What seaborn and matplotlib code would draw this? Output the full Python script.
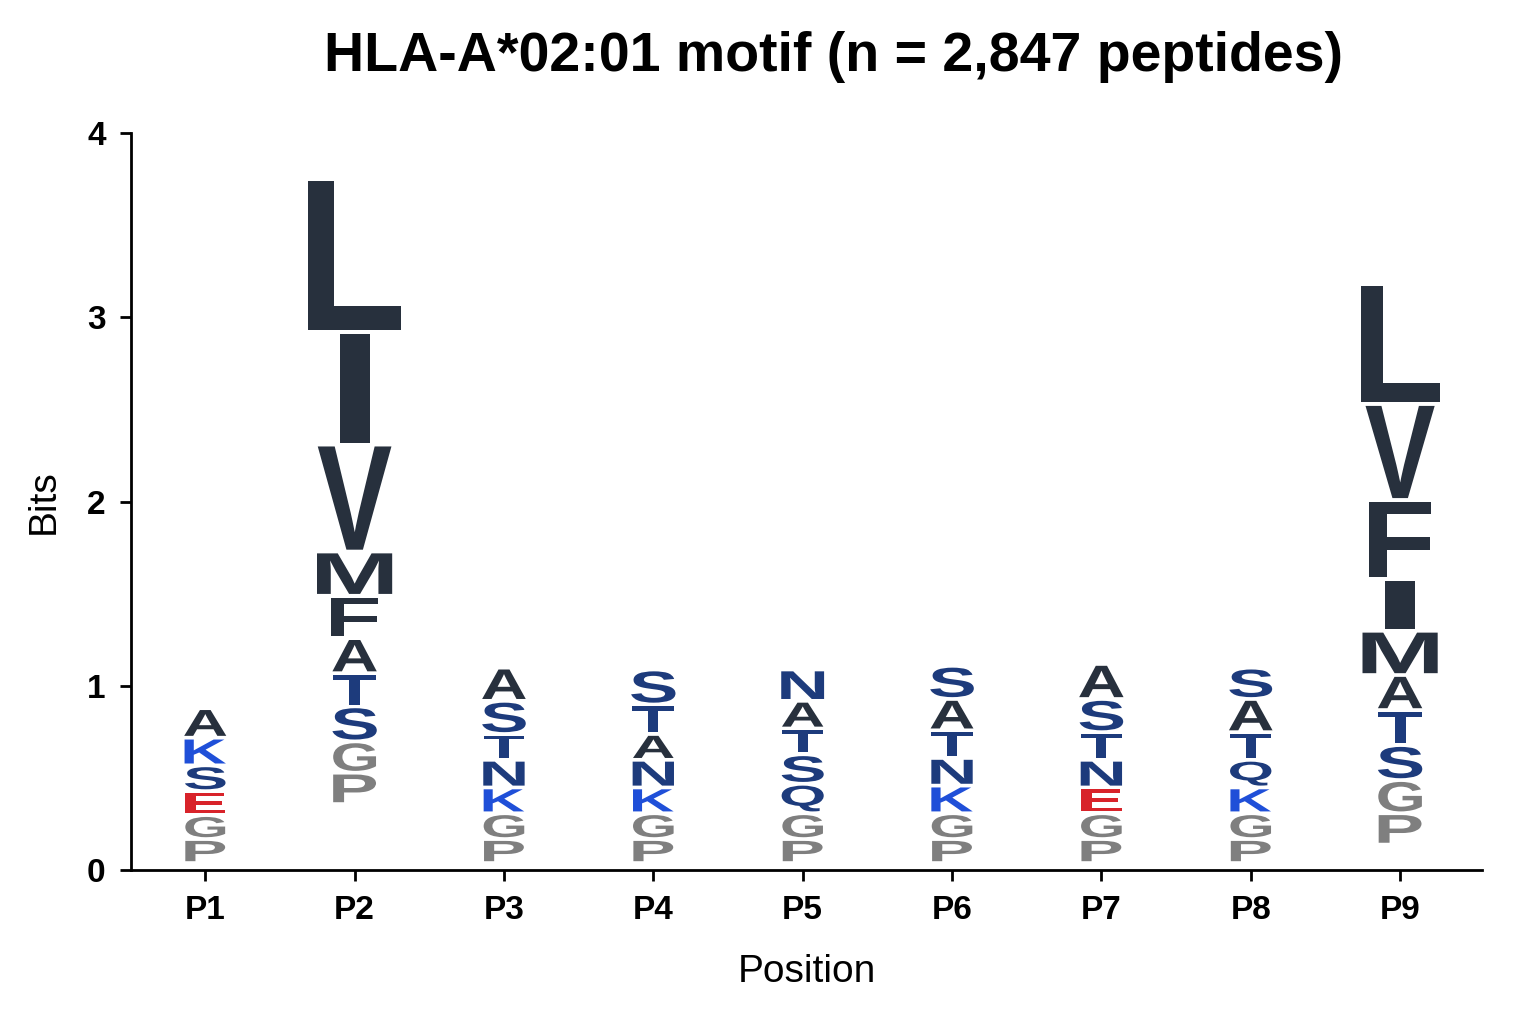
import matplotlib
matplotlib.use("Agg")
import matplotlib.pyplot as plt
import seaborn as sns
from matplotlib.textpath import TextPath
from matplotlib.patches import PathPatch
from matplotlib.font_manager import FontProperties
from matplotlib.transforms import Affine2D

positions = ["P1", "P2", "P3", "P4", "P5", "P6", "P7", "P8", "P9"]
# base offset (bits) and letters bottom->top with heights (bits)
bases = [0.04, 0.36, 0.04, 0.04, 0.04, 0.04, 0.04, 0.04, 0.14]
letters = [
    ["P", "G", "E", "S", "K", "A"],
    ["P", "G", "S", "T", "A", "F", "M", "V", "I", "L"],
    ["P", "G", "K", "N", "T", "S", "A"],
    ["P", "G", "K", "N", "A", "T", "S"],
    ["P", "G", "Q", "S", "T", "A", "N"],
    ["P", "G", "K", "N", "T", "A", "S"],
    ["P", "G", "E", "N", "T", "S", "A"],
    ["P", "G", "K", "Q", "T", "A", "S"],
    ["P", "G", "S", "T", "A", "M", "I", "F", "V", "L"],
]
heights = [
    [0.13, 0.13, 0.13, 0.14, 0.15, 0.16],
    [0.17, 0.17, 0.19, 0.18, 0.19, 0.23, 0.24, 0.58, 0.61, 0.83],
    [0.13, 0.14, 0.14, 0.15, 0.14, 0.18, 0.18],
    [0.13, 0.14, 0.14, 0.15, 0.14, 0.16, 0.19],
    [0.13, 0.14, 0.16, 0.16, 0.14, 0.15, 0.17],
    [0.13, 0.14, 0.15, 0.15, 0.15, 0.17, 0.18],
    [0.13, 0.14, 0.14, 0.15, 0.15, 0.18, 0.19],
    [0.13, 0.14, 0.14, 0.15, 0.15, 0.18, 0.17],
    [0.17, 0.18, 0.19, 0.19, 0.19, 0.24, 0.28, 0.43, 0.52, 0.65],
]
colors = {
    "L": "#27303d", "I": "#27303d", "V": "#27303d", "M": "#27303d",
    "F": "#27303d", "A": "#27303d",
    "S": "#1d3b7c", "T": "#1d3b7c", "N": "#1d3b7c", "Q": "#1d3b7c",
    "K": "#1f4fd8", "E": "#d8232a", "G": "#7f7f7f", "P": "#7f7f7f",
}

sns.set_style("ticks")
plt.rcParams["font.family"] = ["Liberation Sans", "DejaVu Sans"]
plt.rcParams["text.color"] = "black"
plt.rcParams["axes.labelcolor"] = "black"
plt.rcParams["xtick.color"] = "black"
plt.rcParams["ytick.color"] = "black"
fig, ax = plt.subplots(figsize=(15.36, 10.24), dpi=100)
fig.subplots_adjust(left=0.085, right=0.965, top=0.87, bottom=0.15)

fp = FontProperties(family="Liberation Sans", weight="bold")

def draw_letter(ch, xc, y0, w, h, color):
    tp = TextPath((0, 0), ch, size=1, prop=fp)
    bb = tp.get_extents()
    t = (Affine2D().translate(-bb.x0 - bb.width / 2, -bb.y0)
         .scale(w / bb.width, h / bb.height).translate(xc, y0))
    ax.add_patch(PathPatch(t.transform_path(tp), fc=color, ec="none"))

for i, (base, ls, hs) in enumerate(zip(bases, letters, heights)):
    y = base
    xc = i + 1
    for ch, h in zip(ls, hs):
        wpx = min(95, 30 + 75 * h)
        if ch == "M" and h > 0.2:
            wpx = 75
        if ch == "I":
            wpx = 30
        w = wpx / 149.0
        draw_letter(ch, xc, y + 0.01, w, h - 0.02, colors[ch])
        y += h

ax.set_xlim(0.5, 9.55)
ax.set_ylim(0, 4)
ax.set_xticks(range(1, 10))
ax.set_xticklabels(positions, fontsize=24, fontweight="bold")
ax.set_yticks([0, 1, 2, 3, 4])
ax.set_yticklabels(["0", "1", "2", "3", "4"], fontsize=24, fontweight="bold")
ax.set_xlabel("Position", fontsize=28, labelpad=20)
ax.set_ylabel("Bits", fontsize=28, labelpad=18)
ax.set_title("HLA-A*02:01 motif (n = 2,847 peptides)", fontsize=40,
             fontweight="bold", pad=45, x=0.52)
for s in ["left", "bottom"]:
    ax.spines[s].set_linewidth(2)
    ax.spines[s].set_color("black")
ax.tick_params(width=2, length=8, pad=10)
sns.despine(ax=ax)
fig.savefig("out.png", dpi=100)
